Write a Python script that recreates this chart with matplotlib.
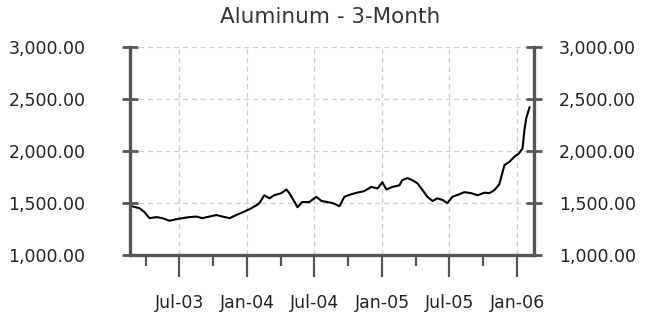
import matplotlib
matplotlib.use('Agg')
import matplotlib.pyplot as plt
import matplotlib.dates as mdates
import matplotlib.ticker as mticker
import pandas as pd

# Aluminum 3-month price
dates = [
    '2003-02-21', '2003-03-15', '2003-03-28', '2003-04-11', '2003-04-30',
    '2003-05-16', '2003-06-04', '2003-06-23', '2003-07-09', '2003-07-28',
    '2003-08-16', '2003-09-01', '2003-09-20', '2003-10-09', '2003-10-26',
    '2003-11-14', '2003-12-02', '2003-12-19', '2004-01-12', '2004-01-26',
    '2004-02-03', '2004-02-16', '2004-03-01', '2004-03-14', '2004-04-02',
    '2004-04-16', '2004-04-24', '2004-05-08', '2004-05-16', '2004-05-29',
    '2004-06-17', '2004-07-06', '2004-07-20', '2004-08-05', '2004-08-19',
    '2004-09-07', '2004-09-20', '2004-10-09', '2004-10-25', '2004-11-13',
    '2004-12-02', '2004-12-19', '2005-01-01', '2005-01-12', '2005-01-28',
    '2005-02-16', '2005-02-24', '2005-03-10', '2005-03-23', '2005-04-06',
    '2005-04-20', '2005-05-03', '2005-05-17', '2005-05-30', '2005-06-13',
    '2005-06-26', '2005-07-10', '2005-07-29', '2005-08-11', '2005-08-30',
    '2005-09-16', '2005-10-05', '2005-10-18', '2005-11-01', '2005-11-14',
    '2005-11-28', '2005-12-11', '2005-12-25', '2006-01-07', '2006-01-16',
    '2006-01-21', '2006-01-26', '2006-02-04',
]
prices = [
    1470, 1450, 1413, 1355, 1365,
    1355, 1330, 1345, 1355, 1365,
    1370, 1355, 1370, 1385, 1370,
    1355, 1385, 1410, 1450, 1480,
    1500, 1575, 1545, 1575, 1595,
    1630, 1595, 1510, 1460, 1510,
    1510, 1560, 1520, 1510, 1500,
    1470, 1560, 1585, 1600, 1615,
    1655, 1640, 1700, 1630, 1655,
    1670, 1720, 1740, 1720, 1690,
    1625, 1560, 1520, 1545, 1530,
    1500, 1560, 1585, 1605, 1595,
    1575, 1600, 1595, 1625, 1680,
    1865, 1895, 1945, 1980, 2025,
    2200, 2315, 2420,
]
yticks = [1000, 1500, 2000, 2500, 3000]

x = pd.to_datetime(dates)

plt.rcParams['font.family'] = ['DejaVu Sans']
fig = plt.figure(figsize=(6.5, 3.13), dpi=100)
ax = fig.add_axes([0.2, 0.185, 0.6215, 0.665])

ax.plot(x, prices, color='black', lw=1.5)

ax.set_ylim(1000, 3000)
ax.set_xlim(pd.Timestamp('2003-02-17'), pd.Timestamp('2006-02-16'))
ax.set_yticks(yticks)
ax.yaxis.set_major_formatter(mticker.StrMethodFormatter('{x:,.2f}'))
ax.xaxis.set_major_locator(mdates.MonthLocator(bymonth=[1, 7]))
ax.xaxis.set_minor_locator(mdates.MonthLocator(bymonth=[4, 10]))
ax.xaxis.set_major_formatter(mdates.DateFormatter('%b-%y'))

ax.grid(True, which='major', color='#cccccc', ls=(0, (4, 3)), lw=0.9)
ax.set_axisbelow(True)

spine_c = '#555555'
ax.spines['top'].set_visible(False)
for s in ('left', 'right', 'bottom'):
    ax.spines[s].set_color(spine_c)
    ax.spines[s].set_linewidth(2.4)

ax.tick_params(axis='y', which='major', direction='inout', length=12, width=2,
               color=spine_c, left=True, right=False, labelsize=12.5,
               labelcolor='#222222', pad=26)
ax.tick_params(axis='x', which='major', direction='out', length=16, width=1.6,
               color=spine_c, labelsize=12.5, labelcolor='#222222', pad=12)
ax.tick_params(axis='x', which='minor', direction='out', length=8, width=1.6,
               color=spine_c)

# right-hand scale sits closer to the spine than the left one
ax2 = ax.twinx()
ax2.set_ylim(ax.get_ylim())
ax2.set_yticks(yticks)
ax2.yaxis.set_major_formatter(mticker.StrMethodFormatter('{x:,.2f}'))
for s in ax2.spines.values():
    s.set_visible(False)
ax2.tick_params(axis='y', direction='inout', length=12, width=2,
                color=spine_c, labelsize=12.5, labelcolor='#222222', pad=12)

fig.text(0.508, 0.945, 'Aluminum - 3-Month', ha='center', va='center',
         fontsize=15.5, color='#333333')

fig.savefig('out.png', dpi=100, facecolor='white')
